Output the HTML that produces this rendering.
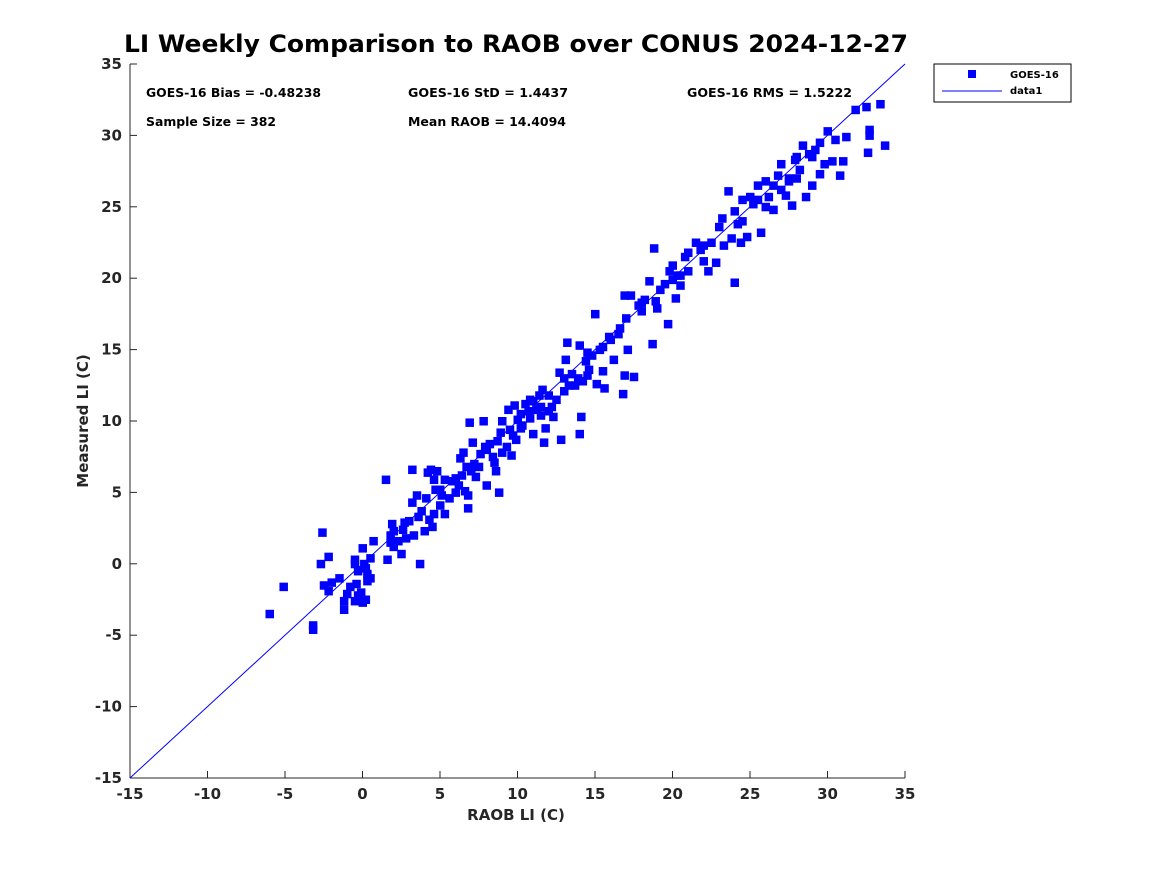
<!DOCTYPE html>
<html><head><meta charset="utf-8"><style>
body{margin:0;background:#fff;}
svg text{font-family:"DejaVu Sans","Liberation Sans",sans-serif;font-weight:bold;}
</style></head><body>
<svg id="chart" width="1167" height="875" viewBox="0 0 1167 875" xmlns="http://www.w3.org/2000/svg">
<rect width="1167" height="875" fill="#fff"/>
<text x="124" y="52" font-size="24" textLength="784" lengthAdjust="spacingAndGlyphs" fill="#000">LI Weekly Comparison to RAOB over CONUS 2024-12-27</text>
<g id="plot"></g>
<text x="146" y="97" font-size="12" textLength="175" lengthAdjust="spacingAndGlyphs">GOES-16 Bias = -0.48238</text>
<text x="408" y="97" font-size="12" textLength="160" lengthAdjust="spacingAndGlyphs">GOES-16 StD = 1.4437</text>
<text x="687" y="97" font-size="12" textLength="165" lengthAdjust="spacingAndGlyphs">GOES-16 RMS = 1.5222</text>
<text x="146" y="126" font-size="12" textLength="130" lengthAdjust="spacingAndGlyphs">Sample Size = 382</text>
<text x="408" y="126" font-size="12" textLength="158" lengthAdjust="spacingAndGlyphs">Mean RAOB = 14.4094</text>
<text x="516" y="820" font-size="15" text-anchor="middle" fill="#262626">RAOB LI (C)</text>
<text transform="translate(88,421) rotate(-90)" font-size="15" text-anchor="middle" fill="#262626">Measured LI (C)</text>
<g>
<rect x="934" y="64" width="137" height="38" fill="#fff" stroke="#000" stroke-width="1"/>
<rect x="968" y="70" width="8" height="8" fill="#0000ff"/>
<text x="1010" y="78" font-size="10">GOES-16</text>
<line x1="942" y1="91" x2="1002" y2="91" stroke="#0000ff" stroke-width="1"/>
<text x="1010" y="94" font-size="10">data1</text>
</g>
</svg>
<script>
const xTicks=[-15,-10,-5,0,5,10,15,20,25,30,35];
const yTicks=[-15,-10,-5,0,5,10,15,20,25,30,35];
const raobLI=[-6,-5.1,-3.2,-3.2,-2.6,-2.7,-2.2,-2.5,-2.2,-2,-1.5,-1.2,-1.2,-1,-0.8,-0.5,-0.3,-0.1,0,0.2,-0.3,-0.5,-0.5,0,0.2,0.3,0.5,0.5,0.3,0.7,-0.4,0.1,1.5,1.6,1.8,1.8,1.9,2,2.3,2.5,2.6,2.7,2.8,3.2,3.2,3.3,3.5,3.6,3.7,3.8,4,4.1,4.2,4.3,4.4,4.5,4.6,4.6,4.7,4.8,5,5.1,5.3,5.3,5.6,5.8,6,6.2,6.3,6.4,6.5,6.6,6.7,6.8,6.9,6.8,7,7.1,7.2,7.3,7.5,7.6,7.8,7.9,8,8.2,8.4,8.5,8.6,8.7,8.8,8.9,9,9,9.3,9.4,9.5,9.6,9.7,9.8,9.9,10,10.2,10.3,10.5,10.7,10.8,11,11,11.2,11.4,11.5,11.6,11.7,11.8,12,12.2,12.3,12.5,12.7,12.8,13,13.1,13.2,13.3,13.5,13.7,13.9,14,14,14.1,14.2,14.4,14.5,14.6,14.8,15,15.1,15.3,15.5,15.6,15.9,16.2,16.5,16.6,16.8,16.9,16.9,17.1,17.3,17.5,17.8,18,18.2,18.5,18.7,18.8,18.9,19,19.2,19.5,19.7,20,20,20.2,20.3,20.5,20.8,21,21.5,21.8,22,22.3,22.5,22.8,23,23.2,23.3,23.6,23.8,24,24,24.2,24.4,24.5,24.8,25,25.2,25.5,25.7,26,26.2,26.5,26.8,27,27,27.3,27.5,27.7,27.9,28.2,28.4,28.6,28.8,29,29.2,29.5,29.5,29.8,30,30.3,30.5,30.8,31,31.2,31.8,32.5,32.6,32.7,32.7,33.4,33.7,28,27.5,26.5,22,21,17,16,13,12,10.8,8,6,5,3,2,25.5,24.5,26,28,29,20.5,19.8,18,15.5,14.5,11.5,10.2];
const measuredLI=[-3.5,-1.6,-4.3,-4.6,2.2,0,0.5,-1.5,-1.9,-1.3,-1,-3.2,-2.6,-2.1,-1.6,-2.6,-2.2,-2,-2.7,-2.5,-0.5,0.3,0,1.1,-0.3,-0.7,-1,0.4,-1.2,1.6,-1.4,0,5.9,0.3,1.5,2,2.8,1.2,1.6,0.7,2.4,2.9,1.8,4.3,6.6,2,4.8,3.3,0,3.7,2.3,4.6,6.4,3.1,6.6,2.6,5.9,3.5,5.2,6.5,4.1,4.8,3.5,5.9,4.6,5.8,5,5.5,7.4,6.2,7.8,5.1,6.8,4.8,9.9,3.9,6.5,8.5,7,6.1,6.8,7.7,10,8.2,5.5,8.4,7.5,7.1,6.5,8.6,5,9.2,10,7.8,8.2,10.8,9.4,7.6,9,11.1,8.7,10.1,9.5,9.7,11.2,10.7,10.2,9.1,11.4,10.8,11.8,10.4,12.2,8.5,9.5,10.7,11,10.3,11.5,13.4,8.7,12.1,14.3,15.5,12.5,13.3,12.5,13,15.3,9.1,10.3,12.8,14.2,13.2,13.6,14.6,17.5,12.6,15,13.5,12.3,15.9,14.3,16.1,16.5,11.9,13.2,18.8,15,18.8,13.1,18.1,17.7,18.5,19.8,15.4,22.1,18.4,17.9,19.2,19.6,16.8,20.9,19.9,18.6,20.2,19.5,21.5,20.5,22.5,22,21.2,20.5,22.5,21.1,23.6,24.2,22.3,26.1,22.8,24.7,19.7,23.8,22.5,25.5,22.9,25.7,25.2,26.5,23.2,26.8,25.7,24.8,27.2,26.2,28,25.8,27,25.1,28.3,27.6,29.3,25.7,28.7,26.5,29,29.5,27.3,28,30.3,28.2,29.7,27.2,28.2,29.9,31.8,32,28.8,30.4,30,32.2,29.3,28.5,26.8,26.5,22.3,21.8,17.2,15.7,13,11.8,11.5,8,6,5.2,3,2.3,25.5,24,25,27,28.5,20.2,20.5,18.3,15.2,14.8,11,10.5];
const refLine=[-15,35];

const NS='http://www.w3.org/2000/svg';
const X0=130,X1=905,Y0=778,Y1=64,XMIN=-15,XMAX=35,YMIN=-15,YMAX=35;
function sx(v){return X0+(v-XMIN)/(XMAX-XMIN)*(X1-X0);}
function sy(v){return Y0-(v-YMIN)/(YMAX-YMIN)*(Y0-Y1);}
const g=document.getElementById('plot');
function mk(t,a){const e=document.createElementNS(NS,t);for(const k in a)e.setAttribute(k,a[k]);g.appendChild(e);return e;}
let ax=mk('line',{x1:X0,y1:Y0,x2:X1,y2:Y0,stroke:'#262626','stroke-width':1});


let ay=mk('line',{x1:X0,y1:Y0,x2:X0,y2:Y1,stroke:'#262626','stroke-width':1});


xTicks.forEach(v=>{
  const x=sx(v);
  mk('line',{x1:x,y1:Y0,x2:x,y2:Y0-7,stroke:'#262626'});
  const t=mk('text',{x:x,y:Y0+21,'font-size':15,'text-anchor':'middle',fill:'#262626'});
  t.textContent=v;
  
  
});
yTicks.forEach(v=>{
  const y=sy(v);
  mk('line',{x1:X0,y1:y,x2:X0+7,y2:y,stroke:'#262626'});
  const t=mk('text',{x:X0-8,y:y+5,'font-size':15,'text-anchor':'end',fill:'#262626'});
  t.textContent=v;
  
  
});
const ln=mk('line',{x1:sx(refLine[0]),y1:sy(refLine[0]),x2:sx(refLine[1]),y2:sy(refLine[1]),stroke:'#0000ff','stroke-width':1});


for(let i=0;i<raobLI.length;i++){
  const r=mk('rect',{x:sx(raobLI[i])-4,y:sy(measuredLI[i])-4,width:8.5,height:8.5,fill:'#0000ff'});
  
  
}
</script>
</body></html>
